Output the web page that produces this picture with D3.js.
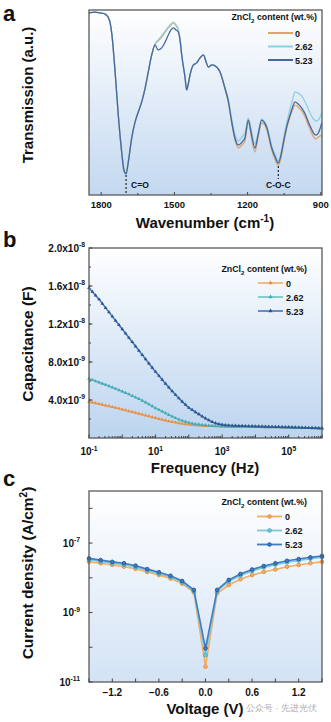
<!DOCTYPE html>
<html><head><meta charset="utf-8">
<script src="https://cdn.jsdelivr.net/npm/d3@7"></script>
<style>
body{margin:0;background:#fff}
svg{display:block}
text{font-family:"Liberation Sans",Arial,sans-serif;font-weight:bold;fill:#111}
</style>
</head><body>
<svg id="chart" width="331" height="722"></svg>
<script>
// ---------- DATA ----------
const seriesNames = ["0", "2.62", "5.23"];

// Panel a: FTIR
const wavenumber = [1850,1825,1805,1784,1772,1764,1756,1743,1730,1716,1707,1698,1689,1675,1661,1648,1634,1620,1607,1593,1579,1567,1552,1538,1525,1514,1504,1493,1484,1477,1470,1456,1450,1444,1436,1422,1409,1395,1381,1370,1361,1346,1327,1313,1293,1280,1265,1252,1238,1223,1211,1197,1186,1170,1157,1142,1133,1122,1101,1087,1074,1063,1053,1038,1026,1014,1006,993,978,964,951,940,930,919,910,896];
const ftir0 = [98.4,98.9,98.4,97.8,96.2,93.5,86.5,66.5,43.2,23.2,13.5,11.4,17.8,30.8,39.5,44.9,50.3,57.8,66.5,75.7,81.6,83.2,85.4,88.1,90.3,91.9,93.0,91.4,89.2,84.3,75.7,63.2,56.8,59.5,64.9,70.3,71.4,74.1,75.7,71.9,69.2,70.3,69.2,66.5,57.3,50.8,38.9,30.0,25.4,27.0,29.2,39.5,32.4,23.2,31.4,38.9,38.4,35.7,24.3,19.0,16.2,20.0,27.0,36.8,42.2,46.5,48.6,47.6,45.4,42.2,37.8,34.1,31.4,30.3,31.4,32.4];
const ftir262 = [98.4,98.9,98.4,97.8,96.2,93.5,86.5,66.5,43.2,23.2,13.5,11.4,17.8,30.8,39.5,44.9,50.3,57.8,66.5,75.7,81.6,83.8,86.0,88.6,90.8,92.4,93.5,91.9,89.7,84.3,75.7,63.2,56.8,59.5,64.9,70.3,71.4,74.1,75.7,71.9,69.2,70.3,69.2,66.5,58.4,52.4,41.1,33.0,29.2,31.4,33.5,41.6,35.7,27.6,33.5,41.1,40.0,37.3,26.5,21.6,18.4,22.7,30.0,40.0,46.5,52.4,55.7,55.1,53.5,50.3,46.5,43.2,41.1,40.0,40.5,44.3];
const ftir523 = [98.4,98.9,98.4,97.8,96.2,93.5,86.5,66.5,43.2,23.2,13.5,11.4,17.8,30.8,39.5,44.9,50.3,57.8,66.5,75.7,81.1,78.4,79.5,82.7,86.5,89.2,90.3,89.2,88.1,83.8,75.7,63.2,56.8,59.5,64.9,70.3,71.4,74.1,75.7,71.9,69.2,70.3,69.2,66.5,57.8,51.4,39.5,30.8,27.0,28.6,30.8,40.5,34.1,25.4,32.4,40.5,39.5,36.8,25.4,20.5,17.3,21.6,28.6,37.8,43.2,48.1,50.3,49.2,47.0,43.8,39.5,36.2,33.5,32.4,33.5,38.9];
const wnTicks = [1800, 1500, 1200, 900];
const wnMinorTicks = [1650, 1350, 1050];

// Panel b: capacitance vs frequency
const frequency = [0.1,0.126,0.158,0.2,0.251,0.316,0.398,0.501,0.631,0.794,
 1,1.26,1.58,2,2.51,3.16,3.98,5.01,6.31,7.94,
 10,12.6,15.8,20,25.1,31.6,39.8,50.1,63.1,79.4,
 100,126,158,200,251,316,398,501,631,794,
 1000,1260,1580,2000,2510,3160,3980,5010,6310,7940,
 10000,12600,15800,20000,25100,31600,39800,50100,63100,79400,
 100000,126000,158000,200000,251000,316000,398000,501000,631000,794000,1000000];
const cap0 = [3.82,3.74,3.66,3.58,3.5,3.42,3.34,3.26,3.18,3.1,
 3.01,2.92,2.83,2.74,2.65,2.56,2.47,2.38,2.29,2.2,
 2.11,2.02,1.93,1.85,1.77,1.7,1.63,1.57,1.51,1.46,
 1.42,1.38,1.35,1.32,1.3,1.28,1.27,1.26,1.25,1.24,
 1.23,1.22,1.21,1.2,1.19,1.19,1.18,1.18,1.17,1.17,
 1.16,1.16,1.15,1.15,1.14,1.14,1.13,1.13,1.12,1.12,
 1.11,1.1,1.09,1.08,1.07,1.06,1.05,1.04,1.03,1.02,1.01].map(v => v * 1e-9);
const cap262 = [6.25,6.12,5.99,5.86,5.73,5.6,5.46,5.32,5.18,5.04,
 4.9,4.75,4.6,4.44,4.28,4.11,3.93,3.74,3.55,3.35,
 3.15,2.97,2.79,2.61,2.43,2.26,2.1,1.96,1.83,1.72,
 1.62,1.54,1.47,1.42,1.38,1.34,1.31,1.28,1.26,1.24,
 1.23,1.22,1.21,1.2,1.2,1.19,1.19,1.18,1.18,1.17,
 1.17,1.16,1.16,1.15,1.15,1.14,1.14,1.13,1.13,1.12,
 1.11,1.1,1.09,1.08,1.07,1.06,1.05,1.04,1.03,1.02,1.01].map(v => v * 1e-9);
const cap523 = [15.8,15.4,15.0,14.6,14.15,13.7,13.25,12.8,12.35,11.9,
 11.45,11.0,10.55,10.1,9.65,9.2,8.75,8.3,7.85,7.4,
 6.97,6.55,6.13,5.72,5.32,4.93,4.55,4.18,3.83,3.5,
 3.18,2.95,2.72,2.5,2.28,2.06,1.87,1.7,1.56,1.47,
 1.4,1.36,1.33,1.31,1.29,1.28,1.27,1.26,1.25,1.24,
 1.23,1.22,1.21,1.2,1.19,1.18,1.17,1.16,1.15,1.14,
 1.13,1.12,1.11,1.1,1.09,1.08,1.07,1.06,1.05,1.04,1.03].map(v => v * 1e-9);
const capTicks = [4e-9, 8e-9, 1.2e-8, 1.6e-8, 2e-8];
const capTickLabels = [["4.0x10","-9"],["8.0x10","-9"],["1.2x10","-8"],["1.6x10","-8"],["2.0x10","-8"]];
const freqTickExp = [-1, 1, 3, 5];

// Panel c: current density vs voltage
const voltage = [-1.5,-1.35,-1.2,-1.05,-0.9,-0.75,-0.6,-0.45,-0.3,-0.15,0,0.15,0.3,0.45,0.6,0.75,0.9,1.05,1.2,1.35,1.5];
const jv0 = [2.88e-8,2.63e-8,2.34e-8,2.09e-8,1.82e-8,1.48e-8,1.2e-8,9.5e-9,6.8e-9,3.8e-9,2.75e-11,3.55e-9,6.2e-9,9.1e-9,1.2e-8,1.48e-8,1.74e-8,2.09e-8,2.34e-8,2.63e-8,2.88e-8];
const jv262 = [3.3e-8,2.95e-8,2.62e-8,2.4e-8,2.04e-8,1.62e-8,1.32e-8,1.05e-8,7.4e-9,4.1e-9,6.0e-11,4.1e-9,7.9e-9,1.17e-8,1.58e-8,2.0e-8,2.4e-8,2.8e-8,3.15e-8,3.55e-8,3.9e-8];
const jv523 = [3.63e-8,3.24e-8,2.88e-8,2.63e-8,2.24e-8,1.78e-8,1.45e-8,1.15e-8,8.1e-9,4.5e-9,9.3e-11,4.5e-9,8.7e-9,1.29e-8,1.74e-8,2.19e-8,2.63e-8,3.09e-8,3.47e-8,3.89e-8,4.27e-8];
const vTicks = [-1.2, -0.6, 0.0, 0.6, 1.2];
const vMinorTicks = [-1.5, -0.9, -0.3, 0.3, 0.9, 1.5];
const jTickExp = [-11, -9, -7];
const jMinorExp = [-10, -8, -6];

// ---------- STYLE ----------
const colA = ["#dca66c", "#8dd0e2", "#46679f"];
const colB = ["#f2ad6a", "#66c3c8", "#4475b8"];
const mkB = ["#e28f4a", "#46a8b2", "#2c558f"];
const colC = ["#f3ad66", "#78cadb", "#3f7cc4"];
const mkC = ["#e8923f", "#44a9be", "#2a5c9e"];

const svg = d3.select("#chart");
const defs = svg.append("defs");
function grad(id, c1) {
  const g = defs.append("linearGradient").attr("id", id).attr("x1", 0).attr("y1", 0).attr("x2", 0).attr("y2", 1);
  g.append("stop").attr("offset", "0%").attr("stop-color", "#ffffff");
  g.append("stop").attr("offset", "100%").attr("stop-color", c1);
}
grad("gA", "#c3d8f0");
grad("gB", "#bcd4ef");
grad("gC", "#d3e3f5");

function supText(g, x, y, base, sup, size, anchor) {
  const t = g.append("text").attr("x", x).attr("y", y).attr("font-size", size).attr("text-anchor", anchor);
  t.append("tspan").text(base);
  t.append("tspan").attr("dy", -size * 0.45).attr("font-size", size * 0.68).text(sup);
  return t;
}
function legendHeader(g, xRight, y, size) {
  const t = g.append("text").attr("x", xRight).attr("y", y).attr("font-size", size).attr("text-anchor", "end");
  t.append("tspan").text("ZnCl");
  t.append("tspan").attr("dy", size * 0.3).attr("font-size", size * 0.7).text("2");
  t.append("tspan").attr("dy", -size * 0.3).text(" content  (wt.%)");
}
function frame(x0, y0, x1, y1, gid) {
  svg.append("rect").attr("x", x0).attr("y", y0).attr("width", x1 - x0).attr("height", y1 - y0).attr("fill", `url(#${gid})`);
}
function border(x0, y0, x1, y1) {
  svg.append("rect").attr("x", x0).attr("y", y0).attr("width", x1 - x0).attr("height", y1 - y0)
    .attr("fill", "none").attr("stroke", "#5a5a5a").attr("stroke-width", 1.3);
}
function vtick(x, y, len) { svg.append("line").attr("x1", x).attr("x2", x).attr("y1", y).attr("y2", y - len).attr("stroke", "#444").attr("stroke-width", 1); }
function htick(x, y, len) { svg.append("line").attr("x1", x).attr("x2", x + len).attr("y1", y).attr("y2", y).attr("stroke", "#444").attr("stroke-width", 1); }

// ---------- PANEL A ----------
{
  const L = 89, R = 322, T = 10, B = 195;
  const x = d3.scaleLinear().domain([1850, 895]).range([L, R]);
  const y = d3.scaleLinear().domain([0, 100]).range([B, T]);
  frame(L, T, R, B, "gA");
  const series = [ftir0, ftir262, ftir523];
  const line = d3.line().x(d => x(d[0])).y(d => y(d[1])).curve(d3.curveMonotoneX);
  series.forEach((s, i) => {
    svg.append("path").datum(wavenumber.map((w, k) => [w, s[k]]))
      .attr("d", line).attr("fill", "none").attr("stroke", colA[i]).attr("stroke-width", 1.3);
  });
  const iCO = wavenumber.indexOf(1698), iCOC = wavenumber.indexOf(1074);
  svg.append("line").attr("x1", x(1698)).attr("x2", x(1698)).attr("y1", y(ftir523[iCO]) + 1).attr("y2", B - 1)
    .attr("stroke", "#222").attr("stroke-width", 1.2).attr("stroke-dasharray", "2,2");
  svg.append("text").attr("x", x(1698) + 5).attr("y", 188).attr("font-size", 8.5).text("C=O");
  svg.append("line").attr("x1", x(1074)).attr("x2", x(1074)).attr("y1", y(ftir0[iCOC]) + 1).attr("y2", 179)
    .attr("stroke", "#222").attr("stroke-width", 1.2).attr("stroke-dasharray", "2,2");
  svg.append("text").attr("x", x(1074)).attr("y", 188).attr("font-size", 8.5).attr("text-anchor", "middle").text("C-O-C");
  border(L, T, R, B);
  wnTicks.forEach(v => {
    vtick(x(v), B, 3);
    svg.append("text").attr("x", x(v)).attr("y", 208).attr("font-size", 9.5).attr("text-anchor", "middle").text(v);
  });
  wnMinorTicks.forEach(v => vtick(x(v), B, 2));
  legendHeader(svg, 317, 20, 8.8);
  seriesNames.forEach((n, i) => {
    const yy = 33 + i * 13.5;
    svg.append("line").attr("x1", 268).attr("x2", 293).attr("y1", yy).attr("y2", yy).attr("stroke", colA[i]).attr("stroke-width", 2);
    svg.append("text").attr("x", 295).attr("y", yy + 3.5).attr("font-size", 9).text(n);
  });
  svg.append("text").attr("x", 3).attr("y", 21).attr("font-size", 22).text("a");
  svg.append("text").attr("font-size", 15).attr("text-anchor", "middle")
    .attr("transform", "translate(33,95) rotate(-90)").text("Transmission (a.u.)");
  const xt = svg.append("text").attr("x", 205).attr("y", 228).attr("font-size", 15).attr("text-anchor", "middle");
  xt.append("tspan").text("Wavenumber (cm");
  xt.append("tspan").attr("dy", -6).attr("font-size", 10).text("-1");
  xt.append("tspan").attr("dy", 6).text(")");
}

// ---------- PANEL B ----------
{
  const L = 89, R = 322, T = 248, B = 438;
  const x = d3.scaleLog().domain([0.1, 1e6]).range([L, R]);
  const y = d3.scaleLinear().domain([0, 2e-8]).range([B, T]);
  frame(L, T, R, B, "gB");
  const series = [cap0, cap262, cap523];
  const line = d3.line().x(d => x(d[0])).y(d => y(d[1]));
  series.forEach((s, i) => {
    const pts = frequency.map((f, k) => [f, s[k]]);
    svg.append("path").datum(pts).attr("d", line).attr("fill", "none").attr("stroke", colB[i]).attr("stroke-width", 1.5);
    svg.append("g").selectAll("path").data(pts).join("path")
      .attr("d", d3.symbol(d3.symbolTriangle, 6)())
      .attr("transform", d => `translate(${x(d[0])},${y(d[1])})`)
      .attr("fill", mkB[i]).attr("stroke", "none");
  });
  border(L, T, R, B);
  for (let e = -1; e <= 6; e++) {
    vtick(x(Math.pow(10, e)), B, 3.5);
    if (e < 6) for (let m = 2; m <= 9; m++) vtick(x(m * Math.pow(10, e)), B, 2);
  }
  freqTickExp.forEach(e => supText(svg, x(Math.pow(10, e)), 455, "10", String(e), 10, "middle"));
  for (let v = 2e-9; v < 2e-8; v += 2e-9) htick(L, y(v), 2);
  capTicks.forEach((v, i) => {
    htick(L, y(v), 3.5);
    supText(svg, 85, y(v) + 3.5, capTickLabels[i][0], capTickLabels[i][1], 10, "end");
  });
  legendHeader(svg, 307, 272, 8.8);
  seriesNames.forEach((n, i) => {
    const yy = 283 + i * 14;
    svg.append("line").attr("x1", 258).attr("x2", 283).attr("y1", yy).attr("y2", yy).attr("stroke", colB[i]).attr("stroke-width", 1.6);
    svg.append("path").attr("d", d3.symbol(d3.symbolTriangle, 8)()).attr("transform", `translate(270.5,${yy})`).attr("fill", mkB[i]);
    svg.append("text").attr("x", 286).attr("y", yy + 3.5).attr("font-size", 9).text(n);
  });
  svg.append("text").attr("x", 3).attr("y", 247).attr("font-size", 22).text("b");
  svg.append("text").attr("font-size", 15.5).attr("text-anchor", "middle")
    .attr("transform", "translate(33,344) rotate(-90)").text("Capacitance (F)");
  svg.append("text").attr("x", 205).attr("y", 473).attr("font-size", 15).attr("text-anchor", "middle").text("Frequency (Hz)");
}

// ---------- PANEL C ----------
{
  const L = 89, R = 322, T = 491, B = 682;
  const x = d3.scaleLinear().domain([-1.5, 1.5]).range([L, R]);
  const y = d3.scaleLog().domain([1e-11, Math.pow(10, -5.5)]).range([B, T]);
  frame(L, T, R, B, "gC");
  const series = [jv0, jv262, jv523];
  const line = d3.line().x(d => x(d[0])).y(d => y(d[1]));
  series.forEach((s, i) => {
    const pts = voltage.map((v, k) => [v, s[k]]);
    svg.append("path").datum(pts).attr("d", line).attr("fill", "none").attr("stroke", colC[i]).attr("stroke-width", 1.6);
    svg.append("g").selectAll("circle").data(pts).join("circle")
      .attr("cx", d => x(d[0])).attr("cy", d => y(d[1])).attr("r", 1.8)
      .attr("fill", colC[i]).attr("stroke", mkC[i]).attr("stroke-width", 1);
  });
  border(L, T, R, B);
  vTicks.forEach(v => {
    vtick(x(v), B, 3.5);
    svg.append("text").attr("x", x(v)).attr("y", 696).attr("font-size", 10).attr("text-anchor", "middle").text(d3.format(".1f")(v));
  });
  vMinorTicks.forEach(v => vtick(x(v), B, 3.5));
  jTickExp.forEach(e => {
    htick(L, y(Math.pow(10, e)), 3.5);
    supText(svg, 80, y(Math.pow(10, e)) + 3.5, "10", String(e), 10, "end");
  });
  jMinorExp.forEach(e => htick(L, y(Math.pow(10, e)), 3.5));
  legendHeader(svg, 307, 505, 8.8);
  seriesNames.forEach((n, i) => {
    const yy = 516.5 + i * 14;
    svg.append("line").attr("x1", 257).attr("x2", 282).attr("y1", yy).attr("y2", yy).attr("stroke", colC[i]).attr("stroke-width", 1.8);
    svg.append("circle").attr("cx", 269.5).attr("cy", yy).attr("r", 1.8).attr("fill", colC[i]).attr("stroke", mkC[i]).attr("stroke-width", 1);
    svg.append("text").attr("x", 285).attr("y", yy + 3.5).attr("font-size", 9).text(n);
  });
  svg.append("text").attr("x", 3).attr("y", 486).attr("font-size", 22).text("c");
  const yt = svg.append("text").attr("font-size", 15.5).attr("text-anchor", "middle").attr("transform", "translate(33,573) rotate(-90)");
  yt.append("tspan").text("Current density (A/cm");
  yt.append("tspan").attr("dy", -6).attr("font-size", 10).text("2");
  yt.append("tspan").attr("dy", 6).text(")");
  svg.append("text").attr("x", 205).attr("y", 714).attr("font-size", 15).attr("text-anchor", "middle").text("Voltage (V)");
  svg.append("text").attr("x", 246).attr("y", 711).attr("font-size", 9).style("fill", "#9a9a9a").style("font-weight", "normal")
    .attr("opacity", 0.8).attr("font-family", "Noto Sans CJK SC").text("公众号 · 先进光伏");
}
</script>
</body></html>
